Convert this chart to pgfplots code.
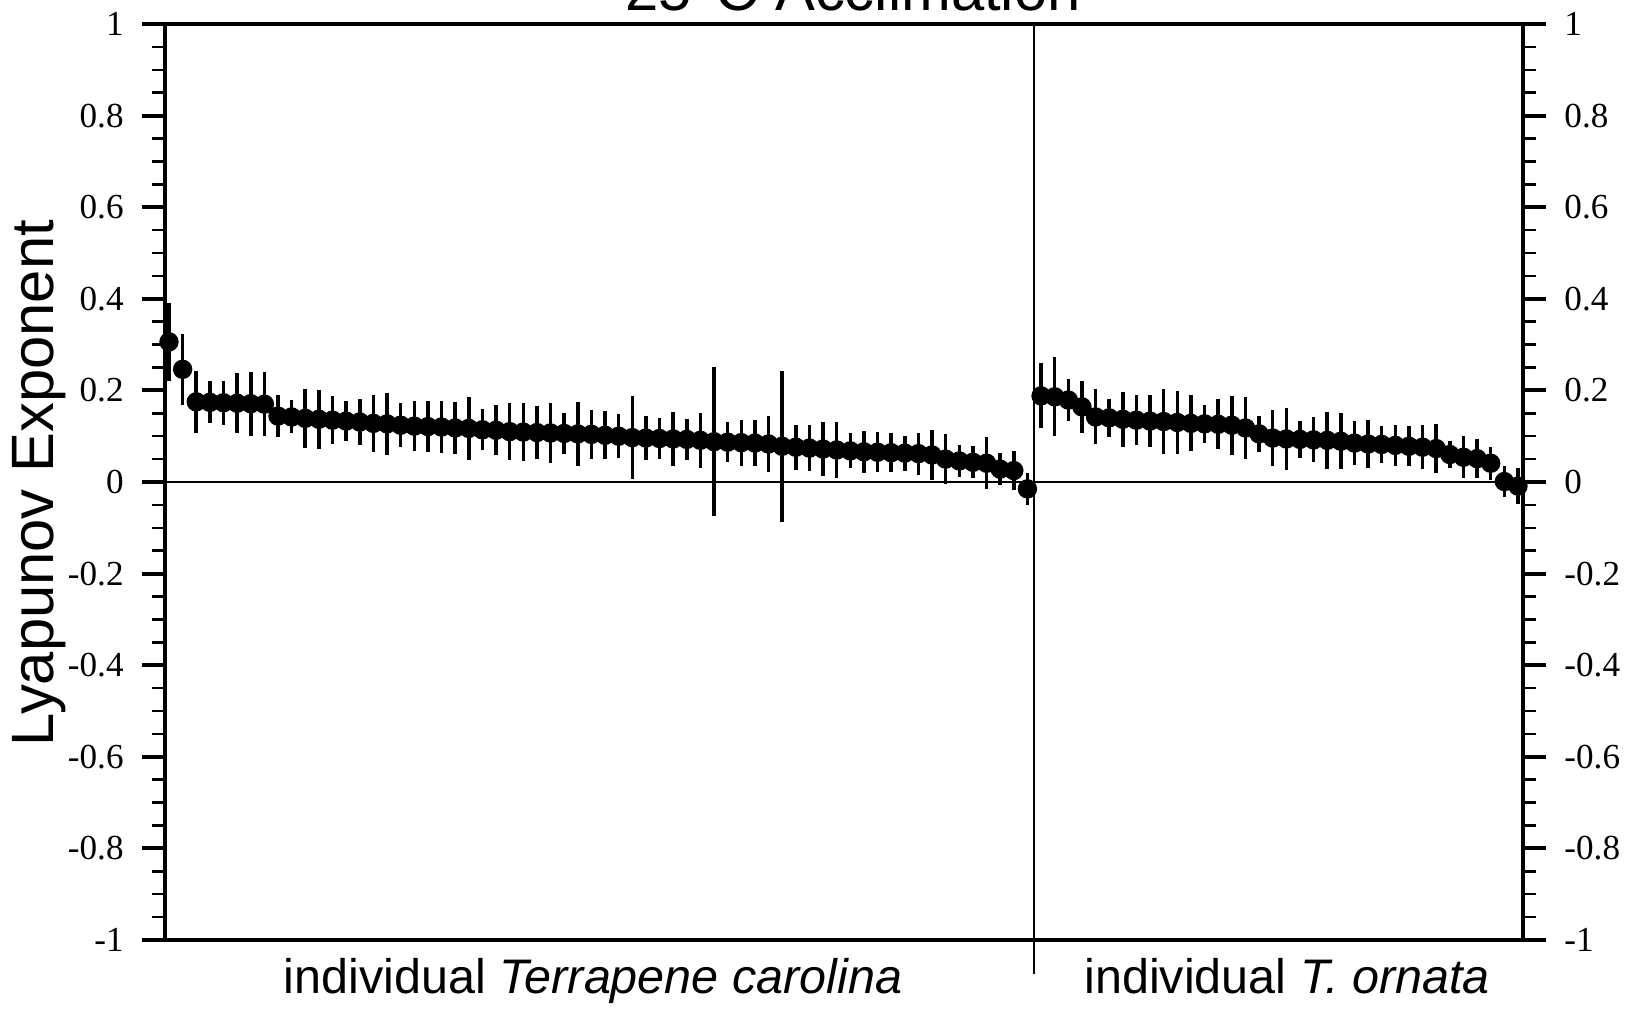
\documentclass[border=0pt]{standalone}
\usepackage{pgfplots}
\pgfplotsset{compat=1.18}
\usepackage{pgfplotstable}
\usepackage{fontspec}
\setmainfont{Liberation Serif}
\newfontfamily\arial{Liberation Sans}

% Lyapunov exponent (mean and error) for each individual turtle
\pgfplotstableread{
x y e
1 0.306 0.085
2 0.246 0.077
3 0.175 0.068
4 0.174 0.046
5 0.173 0.048
6 0.172 0.065
7 0.171 0.070
8 0.170 0.070
9 0.144 0.045
10 0.142 0.036
11 0.139 0.064
12 0.137 0.064
13 0.135 0.052
14 0.133 0.043
15 0.131 0.050
16 0.128 0.062
17 0.127 0.067
18 0.124 0.048
19 0.122 0.054
20 0.121 0.056
21 0.120 0.056
22 0.118 0.056
23 0.117 0.068
24 0.114 0.045
25 0.113 0.055
26 0.110 0.063
27 0.109 0.064
28 0.108 0.057
29 0.107 0.065
30 0.106 0.045
31 0.105 0.070
32 0.104 0.054
33 0.102 0.052
34 0.100 0.048
35 0.097 0.090
36 0.096 0.049
37 0.095 0.045
38 0.094 0.059
39 0.093 0.045
40 0.091 0.060
41 0.088 0.163
42 0.087 0.043
43 0.086 0.050
44 0.085 0.051
45 0.083 0.062
46 0.078 0.165
47 0.076 0.049
48 0.074 0.051
49 0.072 0.059
50 0.070 0.062
51 0.068 0.038
52 0.066 0.046
53 0.065 0.044
54 0.064 0.043
55 0.063 0.038
56 0.062 0.046
57 0.059 0.055
58 0.050 0.054
59 0.046 0.035
60 0.043 0.035
61 0.041 0.057
62 0.028 0.035
63 0.025 0.043
64 -0.015 0.035
}\carolina

\pgfplotstableread{
x y e
65 0.188 0.071
66 0.186 0.086
67 0.179 0.045
68 0.164 0.057
69 0.142 0.060
70 0.140 0.042
71 0.137 0.060
72 0.135 0.055
73 0.133 0.056
74 0.132 0.070
75 0.130 0.069
76 0.128 0.061
77 0.127 0.041
78 0.126 0.055
79 0.124 0.064
80 0.118 0.068
81 0.105 0.039
82 0.096 0.062
83 0.094 0.068
84 0.093 0.040
85 0.092 0.049
86 0.091 0.062
87 0.089 0.061
88 0.085 0.048
89 0.083 0.053
90 0.082 0.040
91 0.080 0.044
92 0.078 0.044
93 0.076 0.048
94 0.073 0.053
95 0.060 0.029
96 0.054 0.046
97 0.051 0.042
98 0.041 0.036
99 0.001 0.033
100 -0.009 0.040
}\ornata

\begin{document}
\begin{tikzpicture}
\pgfplotsset{
  panel/.style={
    scale only axis,
    width=13.58cm, height=9.16cm,
    at={(0,0)}, anchor=south west,
    xmin=0.707, xmax=100.37,
    ymin=-1, ymax=1,
    xtick=\empty,
    ytick={-1,-0.8,-0.6,-0.4,-0.2,0,0.2,0.4,0.6,0.8,1},
    yticklabels={-1,-0.8,-0.6,-0.4,-0.2,0,0.2,0.4,0.6,0.8,1},
    minor y tick num=3,
    tick align=outside,
    major tick length=2.3mm,
    minor tick length=1.3mm,
    every major tick/.append style={line width=1.1pt, black},
    every minor tick/.append style={line width=0.7pt, black},
    yticklabel style={font=\fontsize{10}{12}\selectfont},
    clip=false,
  },
  turtle/.style={only marks, mark=*, mark size=0.9mm, black,
    error bars/.cd, y dir=both, y explicit, error mark=none,
    error bar style={line width=1.0pt, black}},
}
% group divider, running below the frame
\draw[line width=0.6pt] (8.69,9.16) -- (8.69,-0.34);
% left scale and data
\begin{axis}[panel,
  ytick pos=left,
  axis line style={line width=1.4pt},
  yticklabel style={xshift=-0.6mm},
]
  \draw[line width=0.4pt] (axis cs:0.707,0) -- (axis cs:100.37,0);
  \addplot[turtle] table[x=x, y=y, y error=e]{\carolina};
  \addplot[turtle] table[x=x, y=y, y error=e]{\ornata};
\end{axis}
% right scale
\begin{axis}[panel,
  ytick pos=right,
  yticklabel pos=right,
  axis line style={draw=none},
  yticklabel style={xshift=0.6mm},
]
\end{axis}

\node[font=\arial\fontsize{17}{20}\selectfont, rotate=90, anchor=center] at (-1.26,4.57) {Lyapunov Exponent};
\node[font=\arial\fontsize{13.8}{16}\selectfont, anchor=base] at (4.28,-0.53) {individual \textit{Terrapene carolina}};
\node[font=\arial\fontsize{13.8}{16}\selectfont, anchor=base] at (11.22,-0.53) {individual \textit{T. ornata}};
\node[font=\arial\fontsize{17}{20}\selectfont, anchor=base] at (6.88,9.29) {25°C Acclimation};

\pgfresetboundingbox
\useasboundingbox (-1.65,-0.69) rectangle (14.81,9.40);
\end{tikzpicture}
\end{document}
